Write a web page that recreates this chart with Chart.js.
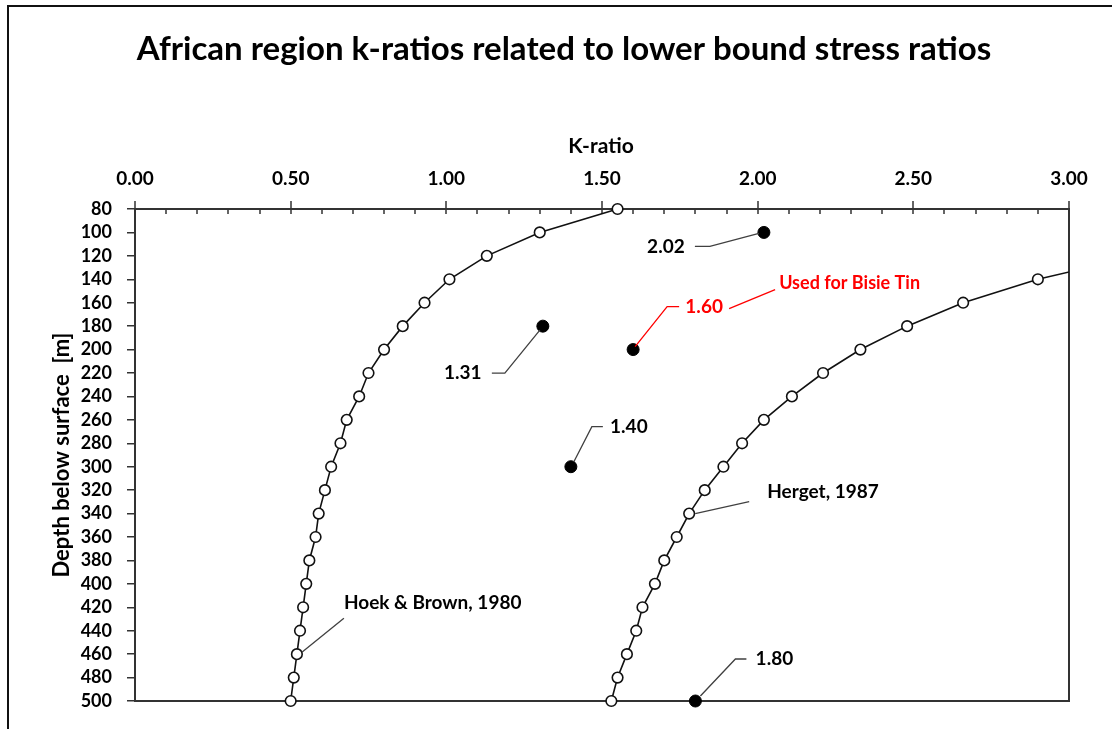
<!DOCTYPE html>
<html>
<head>
<script src="https://cdn.jsdelivr.net/npm/chart.js"></script>
<style>
  body { margin: 0; background: #fff; }
  #wrap { position: relative; width: 1112px; height: 729px; }
</style>
</head>
<body>
<div id="wrap"><canvas id="chart" width="1112" height="729"></canvas></div>
<script>
// depth below surface [m]
const depths = [80, 100, 120, 140, 160, 180, 200, 220, 240, 260, 280, 300, 320, 340, 360, 380, 400, 420, 440, 460, 480, 500];
// k-ratio curves
const hoekBrown = [1.55, 1.30, 1.13, 1.01, 0.93, 0.86, 0.80, 0.75, 0.72, 0.68, 0.66, 0.63, 0.61, 0.59, 0.58, 0.56, 0.55, 0.54, 0.53, 0.52, 0.51, 0.50];
const herget = [4.33, 3.66, 3.22, 2.90, 2.66, 2.48, 2.33, 2.21, 2.11, 2.02, 1.95, 1.89, 1.83, 1.78, 1.74, 1.70, 1.67, 1.63, 1.61, 1.58, 1.55, 1.53];
// measured African region k-ratios
const measuredDepth = [100, 180, 200, 300, 500];
const measuredK = [2.02, 1.31, 1.60, 1.40, 1.80];
const usedIndex = 2;
const usedNote = "Used for Bisie Tin";

const title = "African region k-ratios related to lower bound stress ratios";
const xTitle = "K-ratio";
const yTitle = "Depth below surface  [m]";
const xMin = 0, xMax = 3, xStep = 0.5;
const yMin = 80, yMax = 500, yStep = 20;

const FONT = "Lato, 'Open Sans', 'Liberation Sans', sans-serif";

function pts(xs) {
  return depths.map((d, i) => ({ x: xs[i], y: d }));
}

// label offsets (px) relative to the point they point at
const callouts = [
  { text: [-98, 14], line: [[-69, 14], [-54, 14], [-5, 1]] },
  { text: [-80, 47], line: [[-51, 47], [-38, 47], [-3, 4]] },
  { text: [71, -43], line: [[46, -43], [34, -43], [2, -3]] },
  { text: [58, -40], line: [[32, -40], [21, -40], [3, -5]] },
  { text: [79, -42], line: [[51, -42], [40, -42], [5, -5]] },
];

const decor = {
  id: "decor",
  beforeDraw(chart) {
    const c = chart.ctx;
    c.save();
    c.fillStyle = "#fff";
    c.fillRect(0, 0, chart.width, chart.height);
    c.strokeStyle = "#111";
    c.lineWidth = 2;
    c.beginPath();
    c.moveTo(8, chart.height);
    c.lineTo(8, 6);
    c.lineTo(chart.width, 6);
    c.stroke();

    c.fillStyle = "#000";
    c.textAlign = "center";
    c.textBaseline = "middle";
    c.font = "bold 33px " + FONT;
    c.fillText(title, 564, 49);

    c.font = "bold 21px " + FONT;
    c.fillText(xTitle, 601, 146);

    c.translate(62, 455);
    c.rotate(-Math.PI / 2);
    c.font = "bold 22px " + FONT;
    c.fillText(yTitle, 0, 0);
    c.restore();
  },
  beforeDatasetsDraw(chart) {
    const c = chart.ctx;
    const a = chart.chartArea;
    const xs = chart.scales.x;
    c.save();
    c.strokeStyle = "#333";
    c.lineWidth = 2;
    c.strokeRect(a.left, a.top, a.right - a.left, a.bottom - a.top);
    c.lineWidth = 1.5;
    c.beginPath();
    for (let i = 0; i <= 30; i++) {
      const px = Math.round(xs.getPixelForValue(i / 10));
      c.moveTo(px, i % 5 === 0 ? a.top - 8 : a.top);
      c.lineTo(px, a.top + 5);
    }
    c.stroke();
    c.restore();
  },
  afterDatasetsDraw(chart) {
    const c = chart.ctx;
    const xs = chart.scales.x, ys = chart.scales.y;
    c.save();
    c.textBaseline = "middle";

    measuredK.forEach((k, i) => {
      const px = xs.getPixelForValue(k), py = ys.getPixelForValue(measuredDepth[i]);
      const co = callouts[i];
      const col = i === usedIndex ? "#ff0000" : "#404040";
      c.strokeStyle = col;
      c.lineWidth = 1.3;
      c.beginPath();
      co.line.forEach((p, j) => (j ? c.lineTo(px + p[0], py + p[1]) : c.moveTo(px + p[0], py + p[1])));
      c.stroke();
      c.fillStyle = i === usedIndex ? "#ff0000" : "#000";
      c.textAlign = "center";
      c.font = "bold 19px " + FONT;
      c.fillText(k.toFixed(2), px + co.text[0], py + co.text[1]);
      if (i === usedIndex) {
        c.beginPath();
        c.moveTo(px + 96, py - 41);
        c.lineTo(px + 142, py - 60);
        c.stroke();
        c.textAlign = "left";
        c.font = "bold 18px " + FONT;
        c.fillText(usedNote, px + 146, py - 66);
      }
    });

    // series name labels
    c.strokeStyle = "#404040";
    c.lineWidth = 1.3;
    c.fillStyle = "#000";
    c.textAlign = "left";
    c.font = "bold 19px " + FONT;
    const hb = depths.indexOf(460), hg = depths.indexOf(340);
    let px = xs.getPixelForValue(hoekBrown[hb]), py = ys.getPixelForValue(460);
    c.beginPath(); c.moveTo(px + 47, py - 36); c.lineTo(px + 5, py - 2); c.stroke();
    c.fillText(chart.data.datasets[0].label, px + 47, py - 51);
    px = xs.getPixelForValue(herget[hg]); py = ys.getPixelForValue(340);
    c.beginPath(); c.moveTo(px + 60, py - 12); c.lineTo(px + 6, py); c.stroke();
    c.fillText(chart.data.datasets[1].label, px + 78, py - 22);
    c.restore();
  },
};

const curveStyle = {
  showLine: true,
  borderColor: "#111",
  borderWidth: 1.6,
  pointRadius: 5.3,
  pointBorderWidth: 1.6,
  pointBackgroundColor: "#fff",
  pointBorderColor: "#111",
};

new Chart(document.getElementById("chart"), {
  type: "scatter",
  data: {
    datasets: [
      Object.assign({ label: "Hoek & Brown, 1980", data: pts(hoekBrown), clip: 10 }, curveStyle),
      Object.assign({ label: "Herget, 1987", data: pts(herget), clip: { left: 10, top: 10, right: 0, bottom: 10 } }, curveStyle),
      {
        label: "Measured",
        data: measuredK.map((k, i) => ({ x: k, y: measuredDepth[i] })),
        pointRadius: 6,
        pointBackgroundColor: "#000",
        pointBorderColor: "#000",
        showLine: false,
        clip: 10,
      },
    ],
  },
  options: {
    responsive: false,
    animation: false,
    layout: { padding: { left: 0, right: 43, top: 0, bottom: 28 } },
    plugins: { legend: { display: false }, tooltip: { enabled: false }, title: { display: false } },
    scales: {
      x: {
        type: "linear",
        position: "top",
        min: xMin,
        max: xMax,
        afterFit(s) { s.height = 209; },
        border: { display: false },
        grid: { drawOnChartArea: false, drawTicks: false },
        ticks: {
          stepSize: xStep,
          padding: 19,
          color: "#000",
          font: { family: FONT, size: 19, weight: "bold" },
          callback: (v) => v.toFixed(2),
        },
      },
      y: {
        type: "linear",
        reverse: true,
        min: yMin,
        max: yMax,
        afterFit(s) { s.width = 135; },
        border: { display: false },
        grid: { drawOnChartArea: false, drawTicks: true, tickLength: 8, color: "#333", lineWidth: 1.5 },
        ticks: {
          stepSize: yStep,
          autoSkip: false,
          padding: 15,
          color: "#000",
          font: { family: FONT, size: 18, weight: "bold" },
        },
      },
    },
  },
  plugins: [decor],
});
</script>
</body>
</html>
